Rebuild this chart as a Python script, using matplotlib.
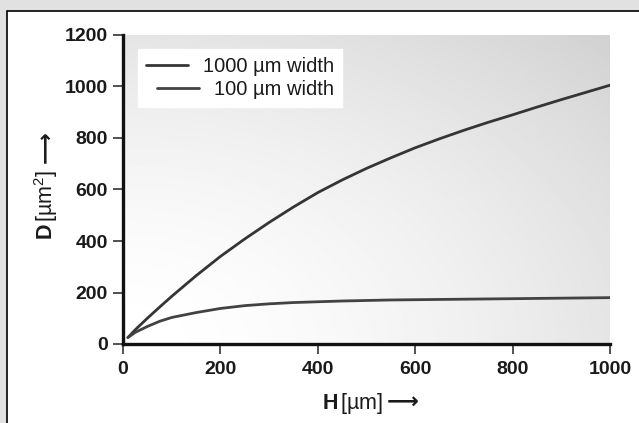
import numpy as np
import matplotlib
matplotlib.use("Agg")
import matplotlib.pyplot as plt
from matplotlib.patches import Rectangle

plt.rcParams['font.family'] = ['Liberation Sans', 'DejaVu Sans']
plt.rcParams['mathtext.fontset'] = 'custom'
plt.rcParams['mathtext.rm'] = 'Liberation Sans'
plt.rcParams['mathtext.bf'] = 'Liberation Sans:bold'
plt.rcParams['mathtext.it'] = 'Liberation Sans:italic'

# Data
H = [10, 25, 50, 75, 100, 150, 200, 250, 300, 350, 400, 450, 500, 550, 600,
     650, 700, 750, 800, 850, 900, 950, 1000]
D_1000 = [25, 55, 100, 143, 185, 265, 340, 408, 472, 532, 588, 637, 682, 723,
          762, 797, 830, 861, 890, 920, 949, 977, 1005]
D_100 = [25, 45, 68, 88, 103, 122, 138, 149, 156, 161, 164, 167, 169, 171,
         172, 173, 174, 175, 176, 177, 178, 179, 180]
labels = ["1000 µm width", "100 µm width"]
xticks = [0, 200, 400, 600, 800, 1000]
yticks = [0, 200, 400, 600, 800, 1000, 1200]

W, Hh = 639, 423
fig = plt.figure(figsize=(W / 100, Hh / 100), dpi=100, facecolor='#e1e1e1')
fig.patches.append(Rectangle((7 / W, -0.1), 1.2, 1 - 11 / Hh + 0.1,
                             transform=fig.transFigure, facecolor='white',
                             edgecolor='black', linewidth=1.2, zorder=-10))

ax = fig.add_axes([123 / W, 1 - 344 / Hh, (610 - 123) / W, (344 - 35) / Hh])
ax.set_facecolor('none')
ax.set_zorder(5)

# gradient background (white lower-left to gray upper-right)
gx, gy = np.meshgrid(np.linspace(0, 1, 300), np.linspace(0, 1, 300))
r2 = (gx ** 2 + gy ** 2) / 2.0
grad = 1.0 - 0.18 * r2 ** 0.8
ax.imshow(grad, extent=[5, 1000, 0, 1200], origin='lower', cmap='gray',
          vmin=0, vmax=1, aspect='auto', zorder=0, interpolation='bilinear')

ax.plot(H, D_1000, color='#353535', lw=2.0, zorder=3, label=labels[0],
        solid_capstyle='round', solid_joinstyle='round')
ax.plot(H, D_100, color='#424242', lw=2.0, zorder=3, label=labels[1],
        solid_capstyle='round', solid_joinstyle='round')

ax.set_xlim(0, 1000)
ax.set_ylim(0, 1200)
ax.set_xticks(xticks)
ax.set_yticks(yticks)
for s in ['top', 'right']:
    ax.spines[s].set_visible(False)
for s in ['left', 'bottom']:
    ax.spines[s].set_linewidth(2.4)
    ax.spines[s].set_color('#111111')
ax.tick_params(direction='out', length=7, width=1.2, color='#333333',
               labelsize=14, pad=4)
ax.tick_params(axis='x', pad=5)
for lab in ax.get_xticklabels() + ax.get_yticklabels():
    lab.set_fontweight('bold')
    lab.set_color('#1a1a1a')

leg = ax.legend(loc='upper left', bbox_to_anchor=(0.03, 0.955), frameon=True,
                fancybox=False, framealpha=1, edgecolor='white',
                facecolor='white', fontsize=14.5, handlelength=2.1,
                handletextpad=0.75, borderpad=0.4, labelspacing=0.2,
                borderaxespad=0, alignment='right')
for t in leg.get_texts():
    t.set_color('#1a1a1a')
vp = leg._legend_box.get_children()[1]
for col in vp.get_children():
    col.align = 'right'

# axis labels
fig.text(383 / W, 1 - 403 / Hh, r'$\mathbf{H}\,[\mathrm{µm}]$', ha='right',
         va='center', fontsize=15.5, color='#1a1a1a')
fig.text(387 / W, 1 - 402 / Hh, '⟶', ha='left', va='center', fontsize=16,
         fontweight='bold', family=['DejaVu Sans'], color='#1a1a1a')
fig.text(46 / W, 1 - 205 / Hh, r'$\mathbf{D}\,[\mathrm{µm}^{2}]$', ha='center',
         va='center', rotation=90, fontsize=15.5, color='#1a1a1a')
fig.text(45 / W, 1 - 147 / Hh, '⟶', ha='center', va='center', rotation=90,
         fontsize=16, fontweight='bold', family=['DejaVu Sans'], color='#1a1a1a')

fig.savefig('out.png', dpi=100, facecolor=fig.get_facecolor())
